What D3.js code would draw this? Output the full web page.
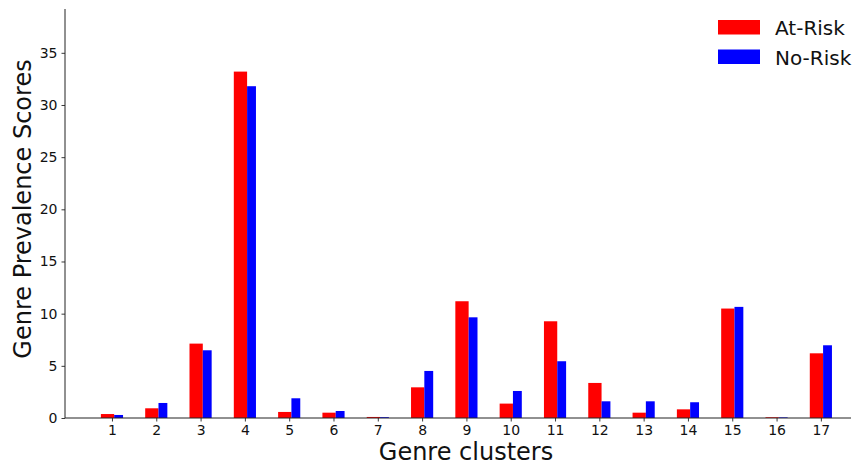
<!DOCTYPE html>
<html><head><meta charset="utf-8">
<script src="https://cdn.jsdelivr.net/npm/d3@7"></script>
<style>body{margin:0;background:#fff}svg{display:block}text{font-family:"DejaVu Sans",sans-serif}</style>
</head><body>
<svg id="c" width="852" height="466"></svg>
<script>
const clusters = [1,2,3,4,5,6,7,8,9,10,11,12,13,14,15,16,17];
const atRisk = [0.38,0.93,7.13,33.2,0.58,0.51,0.1,2.94,11.19,1.38,9.27,3.36,0.51,0.83,10.49,0.07,6.2];
const noRisk = [0.29,1.44,6.49,31.8,1.89,0.67,0.08,4.51,9.65,2.59,5.44,1.6,1.6,1.51,10.65,0.06,6.97];
const yTicks = [0,5,10,15,20,25,30,35];
const seriesNames = ["At-Risk","No-Risk"];
const colors = ["#ff0000","#0000ff"];

const svg = d3.select("#c");
const L=65, R=851, T=9, B=418;
const x = d3.scaleLinear().domain([-0.06,17.68]).range([L,R]);
const y = d3.scaleLinear().domain([0,39.2]).range([B,T]);

// bars
const g = svg.append("g");
g.selectAll("rect.a").data(clusters).enter().append("rect")
  .attr("x", d=>x(d-0.25)).attr("width", d=>x(d+0.05)-x(d-0.25))
  .attr("y", (d,i)=>y(atRisk[i])).attr("height",(d,i)=>y(0)-y(atRisk[i]))
  .attr("fill",colors[0]);
g.selectAll("rect.b").data(clusters).enter().append("rect")
  .attr("x", d=>x(d+0.05)).attr("width", d=>x(d+0.25)-x(d+0.05))
  .attr("y", (d,i)=>y(noRisk[i])).attr("height",(d,i)=>y(0)-y(noRisk[i]))
  .attr("fill",colors[1]);

// axes
const xa = svg.append("g").attr("transform",`translate(0,${B})`)
  .call(d3.axisBottom(x).tickValues(clusters).tickFormat(d3.format("d")).tickSize(3.5).tickPadding(4));
xa.select(".domain").attr("d",`M${L},0H${R}`);
const ya = svg.append("g").attr("transform",`translate(${L},0)`)
  .call(d3.axisLeft(y).tickValues(yTicks).tickSize(3.5).tickPadding(4));
ya.select(".domain").attr("d",`M0,${T}V${B}`);
[xa,ya].forEach(a=>{
  a.selectAll("text").attr("font-size",14).attr("fill","#111").attr("font-family","DejaVu Sans");
  a.selectAll("line").attr("stroke","#222").attr("stroke-width",0.9);
  a.select(".domain").attr("stroke","#222").attr("stroke-width",1);
});

// labels
svg.append("text").attr("x",466).attr("y",460).attr("text-anchor","middle")
  .attr("font-size",24).attr("fill","#111").text("Genre clusters");
svg.append("text").attr("transform","translate(31,209) rotate(-90)").attr("text-anchor","middle")
  .attr("font-size",24).attr("fill","#111").text("Genre Prevalence Scores");

// legend
seriesNames.forEach((n,i)=>{
  const yy = 20 + i*29.5;
  svg.append("rect").attr("x",718).attr("y",yy).attr("width",42).attr("height",14.5).attr("fill",colors[i]);
  svg.append("text").attr("x",775).attr("y",yy+15).attr("font-size",20).attr("fill","#111").text(n);
});
</script>
</body></html>
